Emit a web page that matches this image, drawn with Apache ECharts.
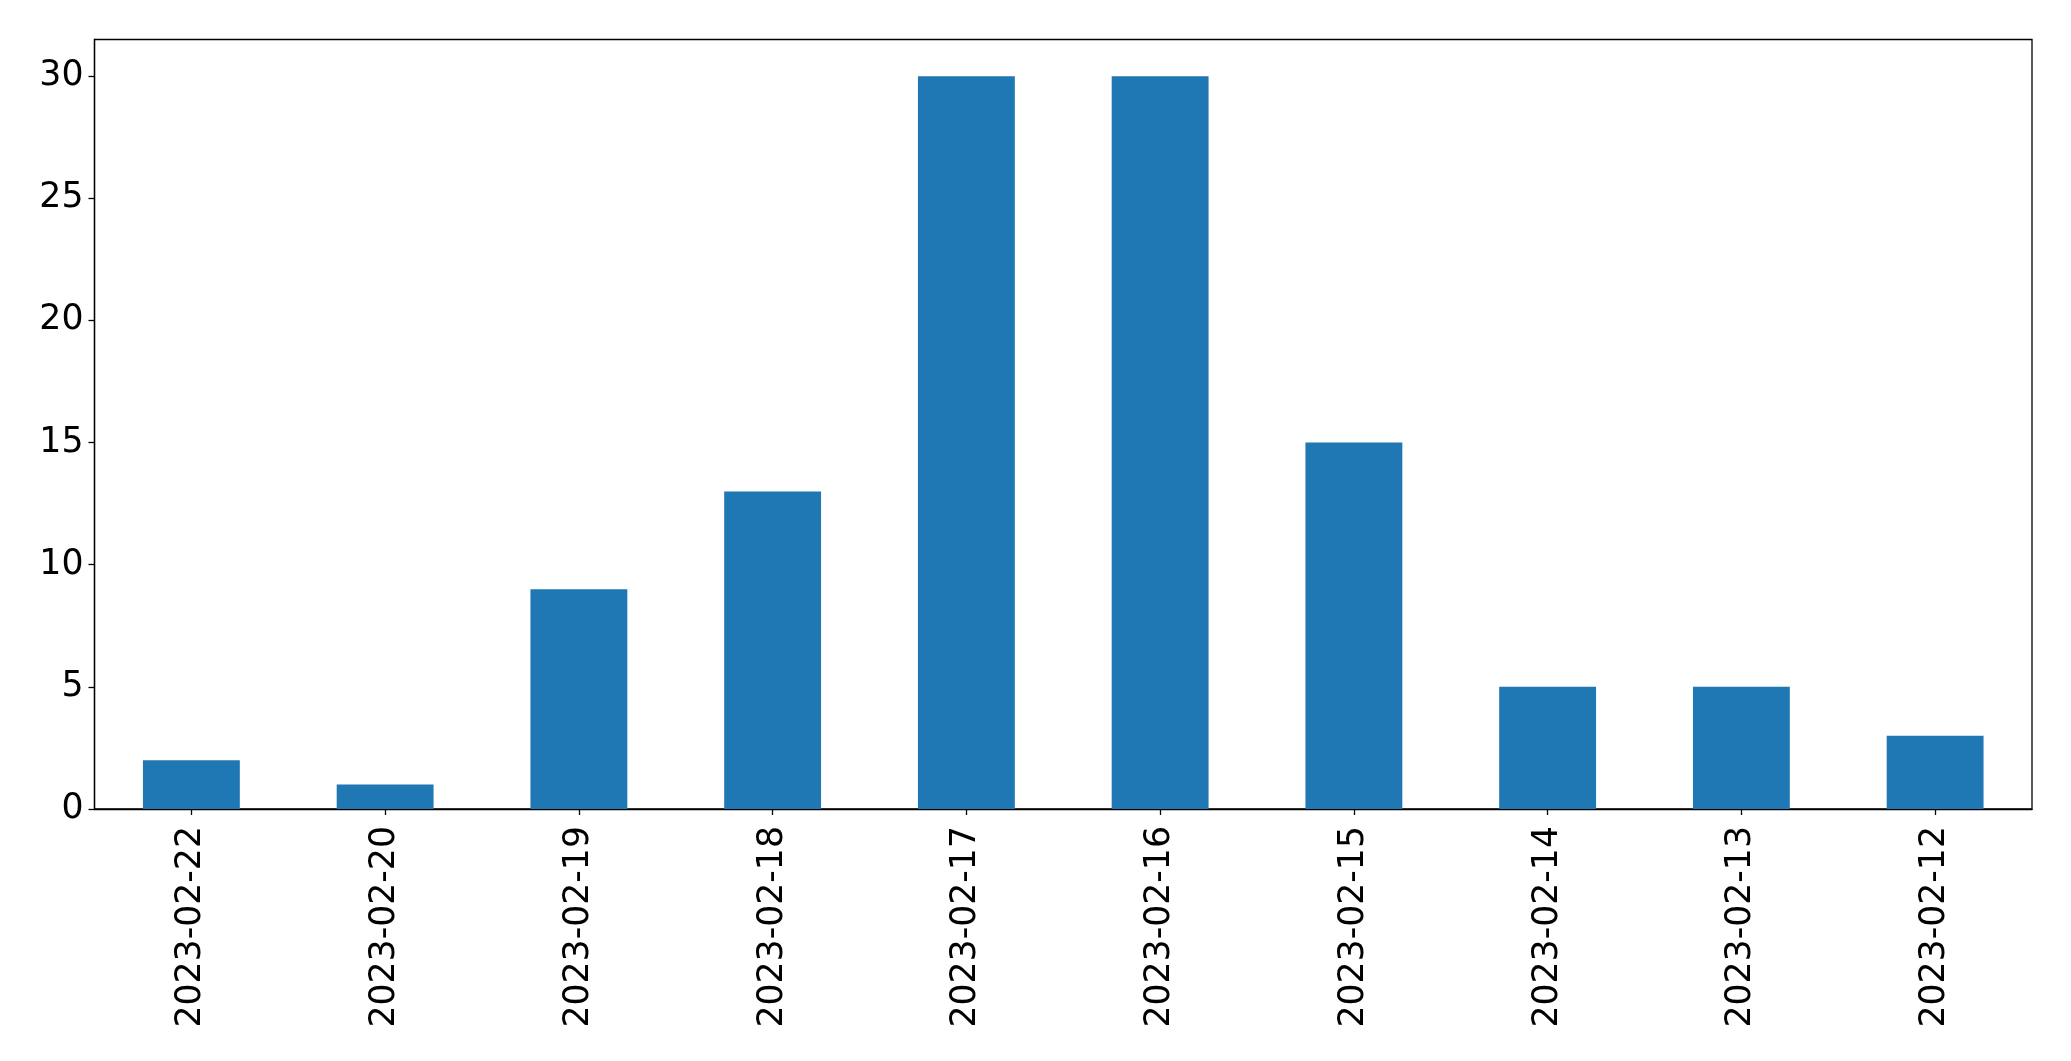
<!DOCTYPE html>
<html><head><meta charset="utf-8">
<script src="https://cdn.jsdelivr.net/npm/echarts@6/dist/echarts.min.js"></script>
<style>html,body{margin:0;padding:0;background:#fff}#c{width:2071px;height:1061px}</style>
</head><body><div id="c"></div>
<script>
const categories = ['2023-02-22','2023-02-20','2023-02-19','2023-02-18','2023-02-17','2023-02-16','2023-02-15','2023-02-14','2023-02-13','2023-02-12'];
const values = [2, 1, 9, 13, 30, 30, 15, 5, 5, 3];
const yTicks = [0, 5, 10, 15, 20, 25, 30];

const chart = echarts.init(document.getElementById('c'));
const font = 'DejaVu Sans';
chart.setOption({
  animation: false,
  backgroundColor: '#fff',
  grid: { left: 94.5, right: 39, top: 39.5, bottom: 252, containLabel: false, show: true, borderColor: '#000', borderWidth: 1.3 },
  xAxis: {
    type: 'category', data: categories, boundaryGap: true,
    axisLine: { show: true, lineStyle: { color: '#000', width: 1.3 } },
    axisTick: { show: true, alignWithLabel: true, length: 6, lineStyle: { color: '#000', width: 1.3 } },
    axisLabel: { rotate: 90, fontSize: 34.7, fontFamily: font, color: '#000', margin: 17, interval: 0 },
    splitLine: { show: false }
  },
  yAxis: {
    type: 'value', min: 0, max: 31.5,
    axisLine: { show: true, lineStyle: { color: '#000', width: 1.3 } },
    axisTick: { show: true, length: 6, customValues: yTicks, lineStyle: { color: '#000', width: 1.3 } },
    axisLabel: { fontSize: 34.7, fontFamily: font, color: '#000', margin: 11, customValues: yTicks },
    splitLine: { show: false }
  },
  series: [{
    type: 'bar', data: values, barWidth: '50%',
    itemStyle: { color: '#1f77b4' }
  }]
});
</script></body></html>
